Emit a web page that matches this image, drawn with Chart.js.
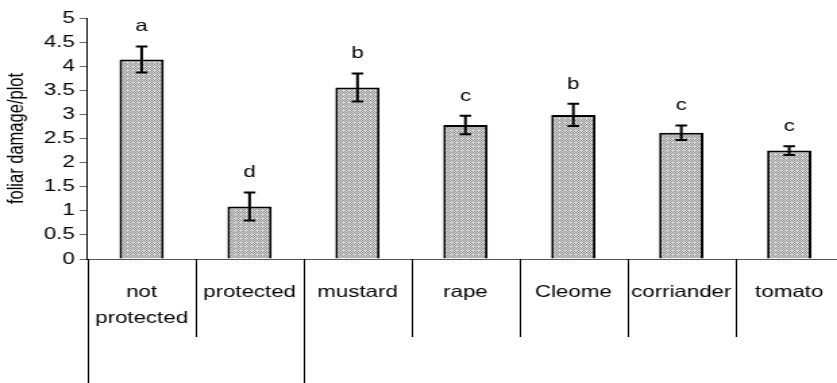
<!DOCTYPE html>
<html>
<head>
<meta charset="utf-8">
<script src="https://cdn.jsdelivr.net/npm/chart.js@4.4.0/dist/chart.umd.min.js"></script>
<style>
html, body { margin: 0; padding: 0; background: #fff; overflow: hidden; }
#wrap { width: 630px; height: 383px; transform: scaleX(1.35); transform-origin: 0 0; }
</style>
</head>
<body>
<div id="wrap"><canvas id="damageChart"></canvas></div>
<script>
var categories = [['not', 'protected'], 'protected', 'mustard', 'rape', 'Cleome', 'corriander', 'tomato'];
var foliarDamage = [4.14, 1.09, 3.56, 2.78, 2.99, 2.62, 2.25];
var stdError = [0.27, 0.29, 0.29, 0.19, 0.23, 0.15, 0.09];
var groupLetters = ['a', 'd', 'b', 'c', 'b', 'c', 'c'];
var yTicks = [0, 0.5, 1, 1.5, 2, 2.5, 3, 3.5, 4, 4.5, 5];
var groupEdges = [0, 2, 7];

var fontFamily = '"Liberation Sans", Arial, sans-serif';
Chart.defaults.font.family = fontFamily;
Chart.defaults.font.size = 16.5;
Chart.defaults.color = '#000';

// small stipple fill like the old spreadsheet pattern
function makePattern() {
    var c = document.createElement('canvas');
    c.width = 4;
    c.height = 4;
    var g = c.getContext('2d');
    g.fillStyle = '#dedede';
    g.fillRect(0, 0, 4, 4);
    g.fillStyle = '#8c8c8c';
    g.fillRect(0, 0, 1, 1);
    g.fillRect(2, 0, 1, 1);
    g.fillRect(1, 1, 1, 1);
    g.fillRect(3, 1, 1, 1);
    g.fillRect(0, 2, 1, 1);
    g.fillRect(3, 3, 1, 1);
    g.fillRect(1, 3, 1, 1);
    return g.createPattern(c, 'repeat');
}

var errorBars = {
    id: 'errorBars',
    afterDatasetsDraw: function(chart) {
        var ctx = chart.ctx;
        var y = chart.scales.y;
        var meta = chart.getDatasetMeta(0);
        ctx.save();
        ctx.strokeStyle = '#000';
        ctx.fillStyle = '#000';
        ctx.lineWidth = 2;
        ctx.font = '16.5px ' + fontFamily;
        ctx.textAlign = 'center';
        ctx.textBaseline = 'alphabetic';
        meta.data.forEach(function(bar, i) {
            var top = y.getPixelForValue(foliarDamage[i] + stdError[i]);
            var bottom = y.getPixelForValue(foliarDamage[i] - stdError[i]);
            var x = bar.x;
            var cap = 4.3;
            ctx.beginPath();
            ctx.moveTo(x, top);
            ctx.lineTo(x, bottom);
            ctx.moveTo(x - cap, top);
            ctx.lineTo(x + cap, top);
            ctx.moveTo(x - cap, bottom);
            ctx.lineTo(x + cap, bottom);
            ctx.stroke();
            ctx.fillText(groupLetters[i], x, top - 15);
        });
        ctx.restore();
    }
};

var dividers = {
    id: 'dividers',
    afterDraw: function(chart) {
        var ctx = chart.ctx;
        var xs = chart.scales.x;
        var area = chart.chartArea;
        ctx.save();
        ctx.strokeStyle = '#000';
        ctx.lineWidth = 1;
        for (var i = 0; i <= categories.length; i++) {
            var px = Math.round(xs.getPixelForValue(i - 0.5)) + 0.5;
            var end = groupEdges.indexOf(i) >= 0 ? chart.height : area.bottom + 78;
            ctx.beginPath();
            ctx.moveTo(px, area.bottom);
            ctx.lineTo(px, end);
            ctx.stroke();
        }
        ctx.restore();
    }
};

var ctx = document.getElementById('damageChart');
var myChart = new Chart(ctx, {
    type: 'bar',
    data: {
        labels: categories,
        datasets: [{
            label: 'foliar damage/plot',
            data: foliarDamage,
            backgroundColor: makePattern(),
            borderColor: '#000',
            borderWidth: 2,
            categoryPercentage: 1,
            barPercentage: 0.41
        }]
    },
    options: {
        responsive: true,
        maintainAspectRatio: false,
        animation: false,
        layout: {
            padding: { top: 18, left: 0, right: 2.6, bottom: 0 }
        },
        plugins: {
            legend: { display: false },
            tooltip: { enabled: false }
        },
        scales: {
            x: {
                grid: { display: false, drawTicks: false },
                border: { display: true, color: '#555', width: 1 },
                ticks: {
                    padding: 20,
                    maxRotation: 0,
                    autoSkip: false,
                    font: { size: 16.5, lineHeight: 1.6 }
                },
                afterFit: function(scale) {
                    scale.height = 124;
                }
            },
            y: {
                min: 0,
                max: 5,
                afterBuildTicks: function(scale) {
                    scale.ticks = yTicks.map(function(v) { return { value: v }; });
                },
                grid: {
                    drawOnChartArea: false,
                    drawTicks: true,
                    tickLength: 6,
                    tickColor: '#666'
                },
                border: { display: true, color: '#000', width: 1 },
                ticks: {
                    padding: 3.6,
                    callback: function(v) { return String(v); }
                },
                title: {
                    display: true,
                    text: 'foliar damage/plot',
                    font: { size: 16.5 },
                    padding: { top: 2.5, bottom: 6.5 }
                }
            }
        }
    },
    plugins: [errorBars, dividers]
});
</script>
</body>
</html>
